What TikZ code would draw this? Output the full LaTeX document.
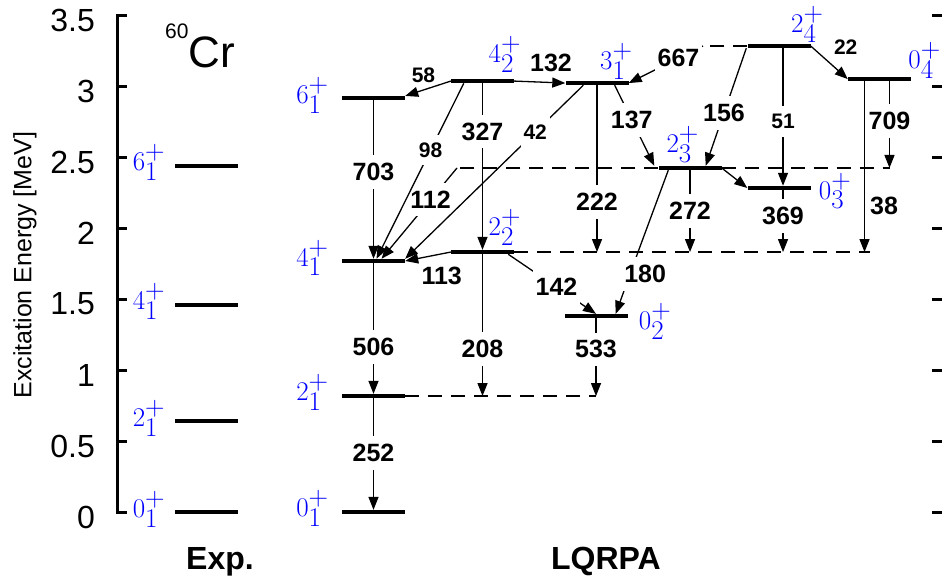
\RequirePackage{fix-cm}
\documentclass[tikz,border=0pt]{standalone}
\usepackage{fontspec}
\setmainfont{Liberation Sans}
\usetikzlibrary{arrows.meta,calc,positioning}
\tikzset{>={Triangle[length=13pt,width=10pt]}}
\newcommand{\jpi}[2]{$#1^{\textstyle +}_{\textstyle #2}$}

\begin{document}
\begin{tikzpicture}[x=1pt, y=142pt,
  lev/.style={fill=black, minimum width=63pt, minimum height=4pt, inner sep=0pt},
  tr/.style={->, line width=1.3pt},
  ext/.style={line width=1.3pt, dash pattern=on 14pt off 9pt},
  lbl/.style={font=\fontsize{25}{25}\selectfont\bfseries, fill=white, inner xsep=3pt, inner ysep=8pt},
  slbl/.style={lbl, font=\fontsize{21}{21}\selectfont\bfseries},
  lblb/.style={font=\fontsize{25}{25}\selectfont\bfseries, inner sep=1pt},
  slblb/.style={lblb, font=\fontsize{21}{21}\selectfont\bfseries},
  st/.style={text=blue, font=\fontsize{27}{27}\selectfont, inner sep=0pt},
  axis/.style={line width=3pt},
  ticklbl/.style={anchor=east, font=\fontsize{32}{32}\selectfont, inner sep=0pt}]

\useasboundingbox (0,-0.514) rectangle (942,3.606);

% axes
\draw[axis] (127,3.5) -- (117,3.5) -- (117,0) -- (127,0);
\foreach \e [count=\i] in {0,0.5,1,1.5,2,2.5,3,3.5}{
  \draw[axis] (117,\e) -- (127,\e);
  \draw[axis] (932,\e) -- (942,\e);
  \node[ticklbl, yshift=-5pt] (tick\i) at (95,\e) {\e};
}
\node[rotate=90, font=\fontsize{25}{25}\selectfont] (ylab) at (25,1.739) {Excitation Energy [MeV]};
\node[anchor=base, font=\fontsize{44}{44}\selectfont] (nucl) at (200,3.134) {\raisebox{29pt}{\fontsize{21}{21}\selectfont 60}Cr};
\node[anchor=base, font=\fontsize{32}{32}\selectfont\bfseries] (exp) at (220,-0.408) {Exp.};
\node[anchor=base, font=\fontsize{32}{32}\selectfont\bfseries] (rpa) at (606,-0.408) {LQRPA};

% experiment
\node[lev] (e01) at (206,0) {};
\node[lev] (e21) at (206,0.64) {};
\node[lev] (e41) at (206,1.46) {};
\node[lev] (e61) at (206,2.44) {};
\node[st, left=9pt of e01, yshift=3pt] (te01) {\jpi01};
\node[st, left=9pt of e21, yshift=3pt] (te21) {\jpi21};
\node[st, left=9pt of e41, yshift=3pt] (te41) {\jpi41};
\node[st, left=9pt of e61, yshift=3pt] (te61) {\jpi61};

% LQRPA levels
\node[lev] (l01) at (373.5,0) {};
\node[lev] (l21) at (373.5,0.817) {};
\node[lev] (l41) at (373.5,1.768) {};
\node[lev] (l61) at (373.5,2.915) {};
\node[lev] (l42) at (482.5,3.035) {};
\node[lev] (l22) at (482.5,1.831) {};
\node[lev] (l31) at (597,3.021) {};
\node[lev] (l02) at (596,1.380) {};
\node[lev] (l23) at (690,2.423) {};
\node[lev] (l03) at (779,2.282) {};
\node[lev] (l24) at (779,3.282) {};
\node[lev] (l04) at (879.5,3.049) {};

\node[st, left=13pt of l01, yshift=4pt] (t01) {\jpi01};
\node[st, left=13pt of l21, yshift=4pt] (t21) {\jpi21};
\node[st, left=13pt of l41, yshift=3pt] (t41) {\jpi41};
\node[st, left=13pt of l61, yshift=3pt] (t61) {\jpi61};
\node[st, anchor=south east] (t42) at ([xshift=7pt,yshift=6pt]l42.north east) {\jpi42};
\node[st, anchor=south east] (t22) at ([xshift=7pt,yshift=4pt]l22.north east) {\jpi22};
\node[st, anchor=south east] (t31) at ([xshift=4pt,yshift=1pt]l31.north east) {\jpi31};
\node[st, anchor=south west] (t23) at ([xshift=8pt,yshift=3pt]l23.north west) {\jpi23};
\node[st, anchor=south east] (t24) at ([xshift=13pt,yshift=1pt]l24.north east) {\jpi24};
\node[st, anchor=south west] (t04) at ([xshift=-3pt,yshift=-2pt]l04.north east) {\jpi04};
\node[st, right=11pt of l02, yshift=-5pt] (t02) {\jpi02};
\node[st, right=8pt of l03, yshift=-3pt] (t03) {\jpi03};

% dashed extensions
\coordinate (k112) at (457,2.423);
\coordinate (k180) at (638,1.831);
\coordinate (k667) at (703,3.282);
\coordinate (d22) at (870,1.831);
\draw[ext] (l21.east) -- (l02 |- l21);
\draw[ext] (l22.east) -- (d22);
\draw[ext] (l23.west) -- (k112);
\draw[ext] (l23.east) -- ($(l04 |- l23)+(10,0)$);
\draw[ext] (l24.west) -- (k667);

% transitions
\draw[tr] (l61) -- node[lbl, pos=.45] {703} (l41);
\draw[tr] (l41) -- node[lbl, pos=.64] {506} (l21);
\draw[tr] (l21) -- node[lbl, pos=.49] {252} (l01);
\draw[tr] (l42.west) -- node[slblb, above=6pt, pos=.6] {58} (l61.north east);
\draw[tr] (l42) -- node[lbl, pos=.29] {327} (l22);
\draw[tr] (l42.east) -- node[lblb, above=9pt, pos=.72] {132} (l31.west);
\draw[tr] (k112) -- node[lbl, pos=.35] {112} ([xshift=8pt]l41.north);
\draw[tr] ([xshift=13pt]l42.south west) -- node[slbl, pos=.38] {98} ([xshift=3pt]l41.north);
\draw[tr] ([xshift=18pt]l31.south west) -- node[slbl, pos=.27] {42} (l41.north east);
\draw[tr] (l22.west) -- node[lblb, below=12pt, pos=.2] {113} (l41.east);
\draw[tr] (l22) -- node[lbl, pos=.67] {208} (l22 |- l21);
\draw[tr] ([xshift=-6pt]l22.south east) -- node[lbl, pos=.55] {142} (l02.north);
\draw[tr] (l02) -- node[lbl, pos=.4] {533} (l02 |- l21);
\draw[tr] (l31) -- node[lbl, pos=.7] {222} (l31 |- l22);
\draw[tr] ([xshift=-14pt]l31.south east) -- node[lbl, pos=.43] {137} ([xshift=-4pt]l23.north west);
\draw[tr] (k667) -- node[lbl, pos=.33] {667} (l31.east);
\draw[tr] ([xshift=-1pt]l24.south west) -- node[lbl, pos=.55] {156} ([xshift=-16pt]l23.north east);
\draw[tr] ([xshift=4pt]l24.south) -- node[slbl, pos=.535] {51} ([xshift=4pt]l03.north);
\draw[tr] (l24.east) -- node[slblb, anchor=south west, pos=.45, xshift=5pt, yshift=5pt] {22} (l04.west);
\draw[tr] ([xshift=10pt]l04.south) -- node[lbl, pos=.46] {709} ($(l04 |- l23)+(10,0)$);
\draw[tr] ([xshift=-15pt]l04.south) -- node[lblb, right=4pt, pos=.73] {38} ($(l04 |- l22)+(-15,0)$);
\draw[tr] (l23.east) -- (l03.west);
\draw[tr] (l23) -- node[lbl, pos=.5] {272} (l23 |- l22);
\draw[tr] ([xshift=4pt]l03.south) -- node[lbl, pos=.42] {369} ($(l03 |- l22)+(4,0)$);
\draw[tr] ([xshift=10pt]l23.south west) -- (k180) -- node[lbl, pos=.35, xshift=15pt] {180} ([xshift=-12pt]l02.north east);
\end{tikzpicture}
\end{document}
